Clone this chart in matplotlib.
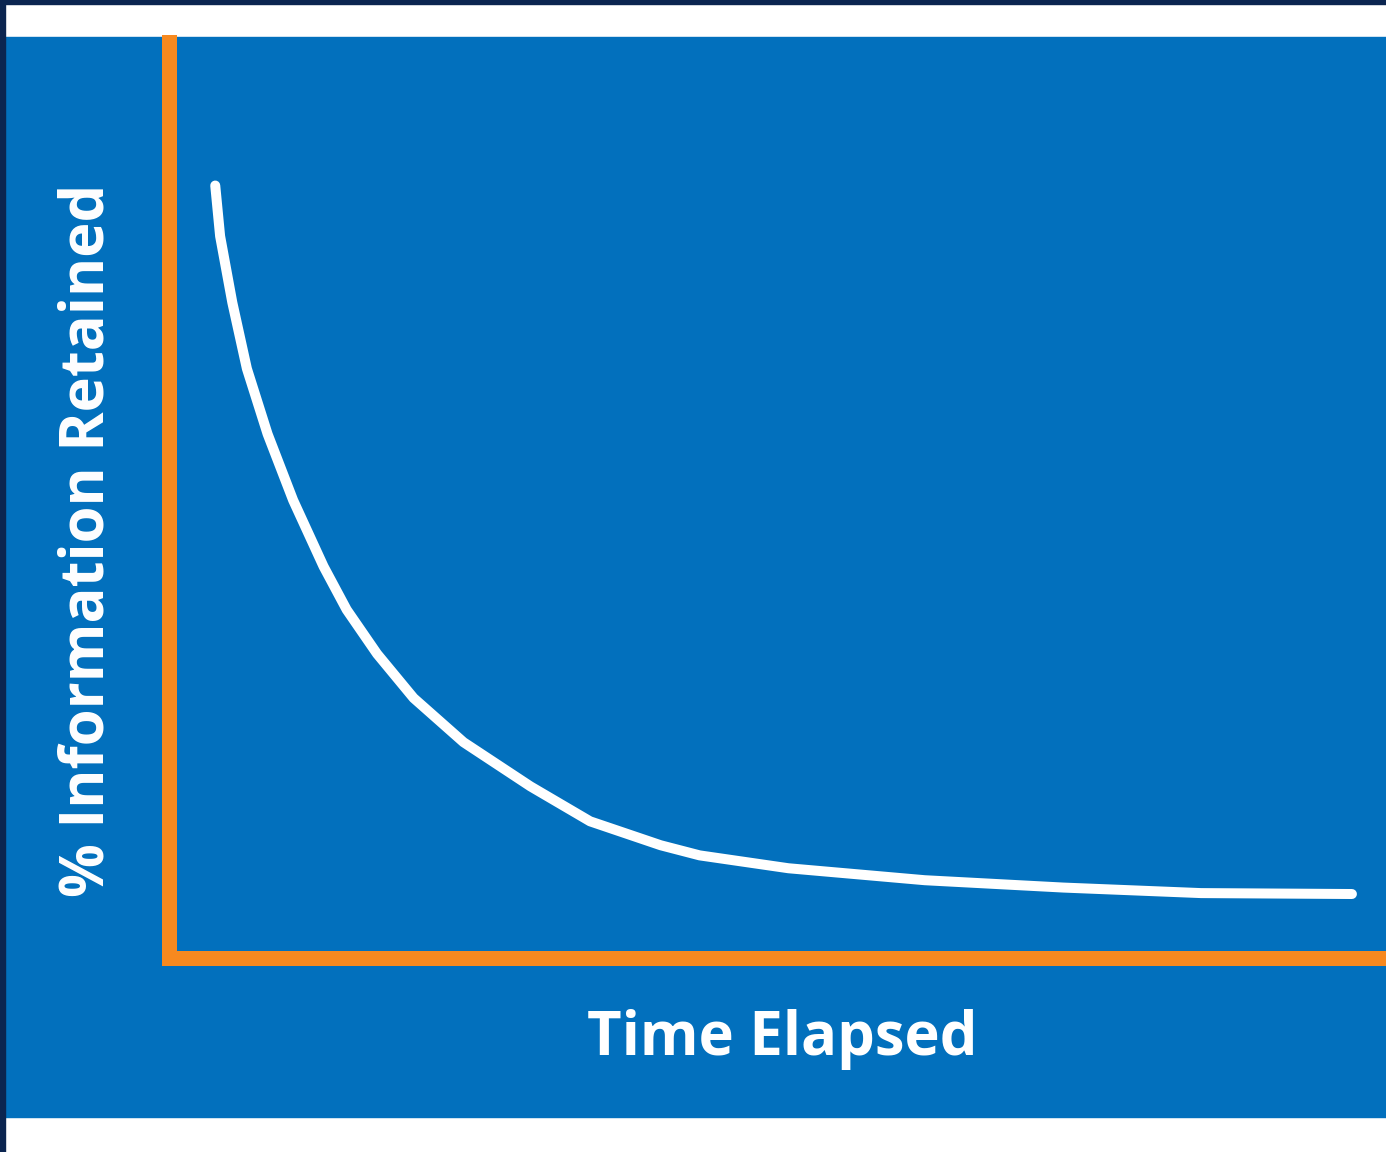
import matplotlib
matplotlib.use("Agg")
import matplotlib.pyplot as plt
from matplotlib.patches import Rectangle

# forgetting curve (time and retention in % of axis)
time_elapsed = [3.8, 4.2, 5.2, 6.4, 8.1, 10.2, 12.7, 14.6, 17.1, 20.1,
                24.2, 29.7, 34.6, 40.4, 43.6, 50.9, 62.1, 73.5, 84.8, 97.2]
retained = [83.9, 78.4, 71.2, 64.0, 56.9, 49.7, 42.5, 37.8, 33.0, 28.2,
            23.4, 18.6, 14.8, 12.2, 11.1, 9.7, 8.4, 7.6, 7.0, 6.9]

x_label = 'Time Elapsed'
y_label = '% Information Retained'

BLUE = '#0270bd'
ORANGE = '#f7891f'
NAVY = '#0b2550'

W, H = 1386, 1152
fig = plt.figure(figsize=(W / 100, H / 100), dpi=100, facecolor='white')

# background panel and dark frame strips (behind the axes)
fig.patches.append(Rectangle((5 / W, 1 - 1117 / H), 1, (1117 - 37) / H,
                             transform=fig.transFigure, color=BLUE, zorder=-2))
fig.patches.append(Rectangle((0, 1 - 4 / H), 1, 4 / H,
                             transform=fig.transFigure, color=NAVY, zorder=-2))
fig.patches.append(Rectangle((0, 0), 5 / W, 1,
                             transform=fig.transFigure, color=NAVY, zorder=-2))

ax = fig.add_axes([169 / W, 1 - 957.5 / H, 1 - 169 / W, (957.5 - 42) / H])
ax.set_zorder(1)
ax.set_facecolor('none')
ax.plot(time_elapsed, retained, color='white', lw=7.2,
        solid_capstyle='round', solid_joinstyle='round')
ax.set_xlim(0, 100)
ax.set_ylim(0, 99.5)
ax.set_xticks([])
ax.set_yticks([])
for s in ['top', 'right']:
    ax.spines[s].set_visible(False)
for s in ['left', 'bottom']:
    ax.spines[s].set_color(ORANGE)
    ax.spines[s].set_linewidth(10.8)
    ax.spines[s].set_capstyle('projecting')

fig.text(782 / W, 1 - 1040 / H, x_label, color='white', fontsize=43,
         fontweight='bold', family='Open Sans', ha='center', va='center')
fig.text(88 / W, 1 - 540 / H, y_label, color='white', fontsize=43,
         fontweight='bold', family='Open Sans', ha='center', va='center',
         rotation=90)

plt.savefig('out.png', dpi=100, facecolor='white')
